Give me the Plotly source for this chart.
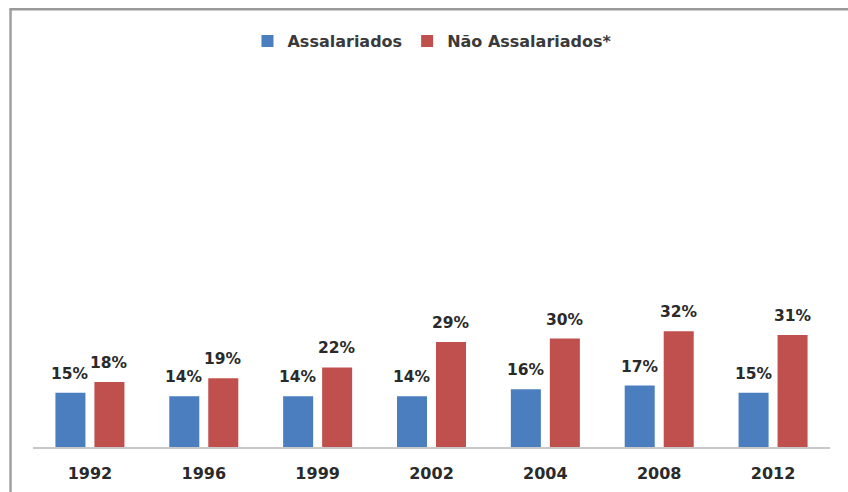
import plotly.graph_objects as go

years = ["1992", "1996", "1999", "2002", "2004", "2008", "2012"]
assalariados = [15, 14, 14, 14, 16, 17, 15]
nao_assalariados = [18, 19, 22, 29, 30, 32, 31]
series_names = ["Assalariados", "Não Assalariados*"]
label_fmt = "{}%"

BLUE = "#4a7ebf"
RED = "#c0504d"
FONT = "DejaVu Sans"

fig = go.Figure()
fig.add_trace(go.Bar(x=years, y=assalariados, name=series_names[0],
                     marker=dict(color=BLUE, line=dict(width=0))))
fig.add_trace(go.Bar(x=years, y=nao_assalariados, name=series_names[1],
                     marker=dict(color=RED, line=dict(width=0))))

annotations = []
for vals, shift in ((assalariados, -19.5), (nao_assalariados, 19.5)):
    for i, v in enumerate(vals):
        annotations.append(dict(x=i, y=v, xref="x", yref="y", text=label_fmt.format(v),
                                showarrow=False, xshift=shift, yshift=19, yanchor="middle",
                                font=dict(family=FONT, size=15.5, color="#2a2a2a", weight="bold")))

fig.update_layout(
    width=848, height=492,
    margin=dict(l=33, r=18, t=60, b=45, autoexpand=False),
    paper_bgcolor="white", plot_bgcolor="white",
    barmode="group", bargap=0.315, bargroupgap=0.23,
    showlegend=True,
    legend=dict(orientation="h", xref="container", yref="container",
                x=0.51, xanchor="center", y=1 - 41 / 492, yanchor="middle",
                font=dict(family=FONT, size=16, color="#3a3a3a", weight="bold"),
                itemwidth=30, bgcolor="rgba(0,0,0,0)"),
    xaxis=dict(type="category", range=[-0.5, len(years) - 0.5], automargin=False,
               showline=True, linecolor="#c8c8c8", linewidth=1.5, showgrid=False,
               ticks="", ticklabelstandoff=11,
               tickfont=dict(family=FONT, size=16, color="#2a2a2a", weight="bold")),
    yaxis=dict(range=[0, 107], visible=False, showgrid=False, zeroline=False, automargin=False),
    annotations=annotations,
    shapes=[
        dict(type="line", xref="paper", yref="paper", x0=-0.0282, x1=-0.0282, y0=-0.2, y1=1.131,
             line=dict(color="#a0a0a0", width=2.5)),
        dict(type="line", xref="paper", yref="paper", x0=-0.0296, x1=1.05, y0=1.131, y1=1.131,
             line=dict(color="#999999", width=2.5)),
    ],
)

fig.write_html("out.html", config={"displayModeBar": False},
               post_script="document.body.style.margin='0';document.body.style.overflow='hidden';")
